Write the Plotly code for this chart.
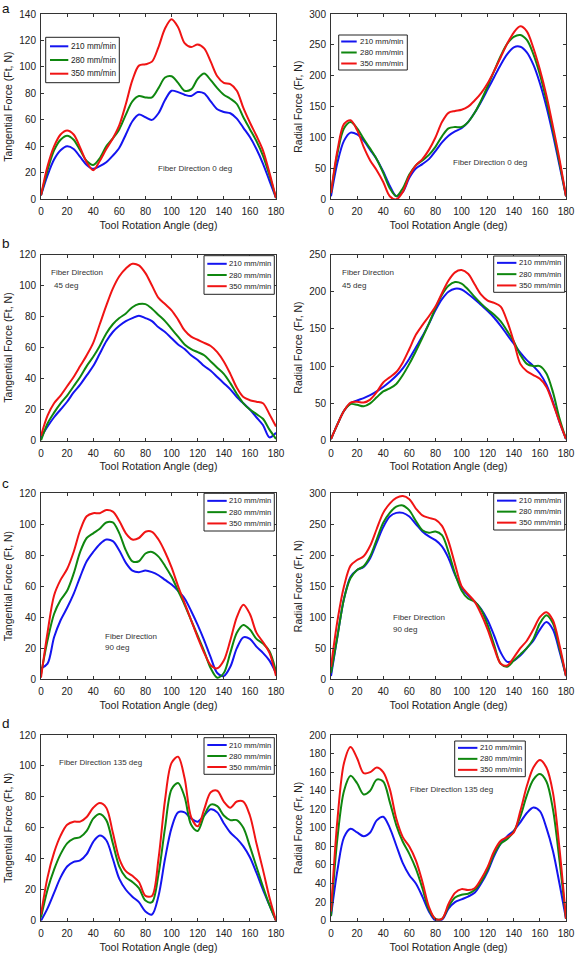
import plotly.graph_objects as go

# ---------------- data ----------------
angle = list(range(0, 181, 5))
feed_labels = ['210 mm/min', '280 mm/min', '350 mm/min']
x_ticks = list(range(0, 181, 20))
panel_letters = ['a', 'b', 'c', 'd']

# (a) fiber direction 0 deg
ft0_210 = [3, 18, 30, 37, 40, 38, 32, 26, 23, 25, 28, 33, 39, 49, 59, 64, 62, 60, 65, 75,
           82, 81, 79, 78, 81, 80, 74, 68, 66, 65, 61, 54, 47, 38, 27, 14, 1]
ft0_280 = [3, 22, 37, 45, 48, 45, 37, 29, 26, 31, 40, 46, 53, 64, 74, 78, 77, 77, 84, 92,
           93, 88, 82, 83, 91, 95, 90, 84, 79, 76, 72, 62, 53, 44, 33, 18, 1]
ft0_350 = [3, 25, 40, 49, 52, 49, 39, 28, 22, 29, 38, 46, 56, 72, 90, 101, 102, 104, 115, 129,
           136, 130, 118, 115, 117, 114, 104, 93, 88, 87, 82, 69, 58, 48, 37, 20, 1]
fr0_210 = [5, 60, 95, 108, 105, 95, 80, 65, 45, 22, 5, 12, 35, 50, 57, 65, 78, 92, 103, 110,
           115, 125, 140, 158, 178, 198, 218, 235, 246, 247, 238, 218, 188, 150, 105, 55, 5]
fr0_280 = [10, 75, 115, 125, 115, 98, 82, 65, 43, 18, 5, 18, 40, 55, 63, 72, 85, 102, 115, 117,
           117, 125, 140, 160, 183, 208, 232, 252, 263, 266, 258, 235, 202, 160, 112, 60, 5]
fr0_350 = [10, 80, 122, 128, 112, 85, 63, 47, 28, 5, 0, 12, 38, 55, 65, 80, 100, 125, 140, 143,
           145, 150, 160, 172, 188, 208, 230, 252, 270, 280, 272, 245, 210, 168, 118, 65, 5]

# (b) fiber direction 45 deg
ft45_210 = [2, 9, 15, 20, 25, 31, 36, 42, 48, 56, 64, 70, 74, 77, 79, 80.5, 79, 77, 73, 70,
            66, 62, 59, 55, 52, 48, 45, 41, 37, 33, 28, 24, 20, 15, 10, 2, 5]
ft45_280 = [0, 11, 18, 24, 29, 35, 41, 48, 54, 61, 69, 75, 79, 82, 86, 88, 88, 85, 81, 77,
            72, 67, 62, 59, 57, 55, 51, 47, 43, 37, 30, 24, 20, 17, 14, 7, 1]
ft45_350 = [3, 16, 24, 29, 35, 41, 48, 55, 63, 75, 87, 98, 106, 111, 114, 113, 108, 100, 92, 88,
            84, 78, 71, 67, 65, 63, 61, 57, 51, 43, 34, 28, 26, 25, 24, 17, 9]
fr45_210 = [2, 22, 40, 50, 54, 57, 61, 66, 72, 79, 87, 97, 110, 125, 140, 157, 175, 190, 200, 204,
            203, 197, 190, 182, 174, 165, 154, 142, 130, 118, 108, 100, 90, 75, 52, 25, 2]
fr45_280 = [2, 22, 40, 49, 48, 46, 50, 58, 66, 70, 76, 88, 103, 120, 138, 157, 178, 196, 208, 213,
            211, 203, 193, 184, 176, 169, 160, 147, 133, 115, 103, 100, 100, 90, 65, 30, 2]
fr45_350 = [2, 22, 40, 51, 52, 51, 55, 65, 78, 85, 92, 105, 123, 142, 155, 167, 180, 198, 215, 226,
            229, 224, 210, 196, 188, 185, 180, 160, 133, 103, 93, 88, 83, 72, 50, 25, 2]

# (c) fiber direction 90 deg
ft90_210 = [7, 10, 27, 38, 46, 55, 66, 76, 82, 87, 90, 89, 83, 75, 70, 69, 70, 69, 67, 64,
            61, 57, 52, 44, 35, 25, 14, 4, 2, 8, 20, 27, 26, 21, 17, 12, 4]
ft90_280 = [3, 25, 42, 51, 57, 68, 82, 91, 94, 97, 101, 101, 94, 83, 76, 76, 81, 82, 79, 73,
            66, 57, 48, 38, 28, 18, 7, 1, 4, 17, 30, 35, 32, 26, 23, 18, 5]
ft90_350 = [1, 30, 54, 64, 71, 82, 96, 105, 107, 107, 109, 108, 102, 94, 90, 91, 95, 95, 90, 82,
            72, 60, 49, 38, 27, 17, 9, 7, 12, 25, 40, 48, 42, 30, 24, 17, 2]
fr90_210 = [5, 70, 130, 165, 176, 181, 195, 220, 245, 262, 268, 268, 262, 250, 238, 230, 224, 214, 195, 168,
            148, 135, 125, 113, 95, 70, 43, 28, 30, 38, 50, 62, 80, 92, 80, 45, 5]
fr90_280 = [10, 70, 130, 163, 176, 182, 198, 225, 252, 268, 278, 280, 272, 255, 240, 236, 238, 232, 205, 170,
            143, 130, 125, 112, 87, 55, 25, 20, 30, 40, 50, 65, 90, 103, 90, 50, 5]
fr90_350 = [20, 95, 150, 183, 192, 198, 215, 242, 268, 283, 292, 295, 290, 275, 264, 260, 257, 247, 222, 185,
            150, 137, 125, 105, 80, 50, 25, 22, 35, 50, 62, 80, 100, 108, 95, 55, 5]

# (d) fiber direction 135 deg
ft135_210 = [0, 8, 18, 28, 35, 38, 39, 43, 51, 55, 52, 40, 27, 20, 15.5, 12, 6, 4, 16, 40,
             60, 70, 70, 66, 64, 68, 72, 70, 63, 57, 53, 48, 41, 31, 20, 10, 0]
ft135_280 = [2, 20, 33, 43, 50, 53, 54, 58, 66, 69, 65, 50, 35, 28, 25, 21, 13, 12, 30, 60,
             85, 89, 80, 62, 58, 68, 75, 74, 68, 65, 65, 60, 48, 35, 22, 10, 0]
ft135_350 = [4, 28, 44, 55, 62, 64, 64, 67, 73, 76, 73, 57, 40, 32, 29, 25, 16, 16, 40, 78,
             102, 106, 92, 67, 61, 72, 83, 84, 77, 73, 77, 77, 68, 50, 33, 15, 0]
fr135_210 = [5, 55, 90, 99, 95, 91, 95, 108, 112, 100, 81, 62, 49, 40, 26, 10, 0, 1, 13, 20,
             23, 26, 30, 40, 53, 70, 83, 91, 97, 106, 116, 122, 118, 100, 75, 40, 2]
fr135_280 = [5, 90, 140, 156, 148, 136, 140, 152, 150, 128, 103, 85, 72, 56, 35, 12, 2, 2, 15, 25,
             28, 29, 33, 42, 55, 72, 83, 88, 96, 112, 135, 152, 158, 150, 120, 65, 2]
fr135_350 = [10, 110, 170, 187, 175, 159, 160, 165, 160, 142, 110, 90, 80, 65, 42, 15, 2, 2, 18, 30,
             34, 33, 35, 45, 58, 75, 86, 90, 95, 118, 145, 165, 173, 165, 138, 78, 2]

# ---------------- figure ----------------
W, H = 576, 956
FONT = 'Liberation Sans, Arial, sans-serif'
colors = ['#1414f0', '#0f870f', '#f01414']
AX = '#333333'

panels = [
    dict(s=[ft0_210, ft0_280, ft0_350], yr=[0, 140], dt=20, yt='Tangential Force (Ft, N)'),
    dict(s=[fr0_210, fr0_280, fr0_350], yr=[0, 300], dt=50, yt='Radial Force (Fr, N)'),
    dict(s=[ft45_210, ft45_280, ft45_350], yr=[0, 120], dt=20, yt='Tangential Force (Ft, N)'),
    dict(s=[fr45_210, fr45_280, fr45_350], yr=[0, 250], dt=50, yt='Radial Force (Fr, N)'),
    dict(s=[ft90_210, ft90_280, ft90_350], yr=[0, 120], dt=20, yt='Tangential Force (Ft, N)'),
    dict(s=[fr90_210, fr90_280, fr90_350], yr=[0, 300], dt=50, yt='Radial Force (Fr, N)'),
    dict(s=[ft135_210, ft135_280, ft135_350], yr=[0, 120], dt=20, yt='Tangential Force (Ft, N)'),
    dict(s=[fr135_210, fr135_280, fr135_350], yr=[0, 200], dt=20, yt='Radial Force (Fr, N)'),
]

col_px = [(41, 276), (331, 566)]
row_px = [(14, 199.3), (254.5, 440.5), (493, 679.2), (735, 920.7)]

# legend boxes in pixels: left, top, right, bottom, row spacing, sample start, sample end, text start, font
legend_box = [(45.7, 37.3, 119.3, 82.7, 13.7, 4.3, 22.6, 24.3, 8.2),
              (338.7, 35, 407.3, 70, 11, 2.5, 18, 20.3, 7.9),
              (204, 255.7, 274.3, 294.3, 11.2, 3.3, 22.7, 24.3, 7.7),
              (493.7, 256, 564.7, 292.3, 11.3, 3.3, 22.7, 24.3, 7.7),
              (204, 493.3, 274.3, 531, 11.3, 3.3, 22.7, 24.3, 7.7),
              (493.7, 493.3, 564.7, 530, 11, 3.3, 22.7, 24.3, 7.7),
              (204, 737.7, 274.3, 774.3, 11, 3.3, 22.7, 24.3, 7.7),
              (454.7, 741, 525.3, 776.7, 11, 3.3, 22.7, 24.3, 7.7)]

notes = [
    [('Fiber Direction 0 deg', 195, 168, 'center')],
    [('Fiber Direction 0 deg', 490, 163, 'center')],
    [('Fiber Direction', 49, 272.7, 'left'), ('45 deg', 51.5, 286, 'left')],
    [('Fiber Direction', 339.7, 272.3, 'left'), ('45 deg', 339.7, 285.7, 'left')],
    [('Fiber Direction', 103, 636.7, 'left'), ('90 deg', 103, 647.7, 'left')],
    [('Fiber Direction', 391.3, 617.7, 'left'), ('90 deg', 391.3, 629.3, 'left')],
    [('Fiber Direction 135 deg', 56.7, 762.3, 'left')],
    [('Fiber Direction 135 deg', 408, 789, 'left')],
]


def px(x):
    return x / W


def py(y):
    return 1 - y / H


fig = go.Figure()
annotations = []
shapes = []
layout = dict(width=W, height=H, margin=dict(l=0, r=0, t=0, b=0),
              paper_bgcolor='white', plot_bgcolor='white', showlegend=False,
              font=dict(family=FONT, color='#222', size=10), template='none')

for i, p in enumerate(panels):
    r, c = divmod(i, 2)
    suf = '' if i == 0 else str(i + 1)
    for k in range(3):
        fig.add_trace(go.Scatter(
            x=angle, y=p['s'][k], name=feed_labels[k], mode='lines',
            line=dict(color=colors[k], width=2, shape='spline', smoothing=0.9),
            xaxis='x' + suf, yaxis='y' + suf))
    x0, x1 = col_px[c]
    y0, y1 = row_px[r]
    common = dict(showline=True, linecolor=AX, linewidth=1, mirror='ticks', ticks='inside',
                  ticklen=3, tickcolor=AX, showgrid=False, zeroline=False, automargin=False,
                  tickfont=dict(size=10, color='#222', family=FONT))
    layout['xaxis' + suf] = dict(domain=[px(x0), px(x1)], anchor='y' + suf, range=[0, 180],
                                 tickvals=x_ticks, ticklabelstandoff=3,
                                 title=dict(text='Tool Rotation Angle (deg)', standoff=5,
                                            font=dict(size=10.5, color='#222')), **common)
    layout['yaxis' + suf] = dict(domain=[py(y1), py(y0)], anchor='x' + suf, range=p['yr'],
                                 dtick=p['dt'], ticklabelstandoff=2,
                                 title=dict(text=p['yt'], standoff=4,
                                            font=dict(size=10.5, color='#222')), **common)

    # legend box (drawn with the series names and colours)
    lx0, ly0, lx1, ly1, sp, s0, s1, t0, fs = legend_box[i]
    shapes.append(dict(type='rect', xref='paper', yref='paper', x0=px(lx0), x1=px(lx1),
                       y0=py(ly1), y1=py(ly0), fillcolor='white',
                       line=dict(color='#222', width=1), layer='above'))
    yc = (ly0 + ly1) / 2
    for k in range(3):
        ey = yc + (k - 1) * sp
        shapes.append(dict(type='line', xref='paper', yref='paper', x0=px(lx0 + s0), x1=px(lx0 + s1),
                           y0=py(ey), y1=py(ey), line=dict(color=colors[k], width=2), layer='above'))
        annotations.append(dict(text=feed_labels[k], x=px(lx0 + t0), y=py(ey), xref='paper', yref='paper',
                                xanchor='left', yanchor='middle', showarrow=False, borderpad=0,
                                font=dict(size=fs, color='#222')))

    for (txt, tx, ty, al) in notes[i]:
        annotations.append(dict(text=txt, x=px(tx), y=py(ty), xref='paper', yref='paper',
                                xanchor=al, yanchor='middle', showarrow=False,
                                font=dict(size=8, color='#333')))

letter_pos = [(1, 0, 'top'), (1, 243.8, 'middle'), (1, 483.2, 'middle'), (1, 723.8, 'middle')]
for ch, (lx, ly, anc) in zip(panel_letters, letter_pos):
    annotations.append(dict(text=ch, x=px(lx), y=py(ly), xref='paper', yref='paper',
                            xanchor='left', yanchor=anc, showarrow=False, borderpad=0,
                            font=dict(size=13.5, color='#111')))

layout['annotations'] = annotations
layout['shapes'] = shapes
fig.update_layout(**layout)
fig.write_html('out.html')
